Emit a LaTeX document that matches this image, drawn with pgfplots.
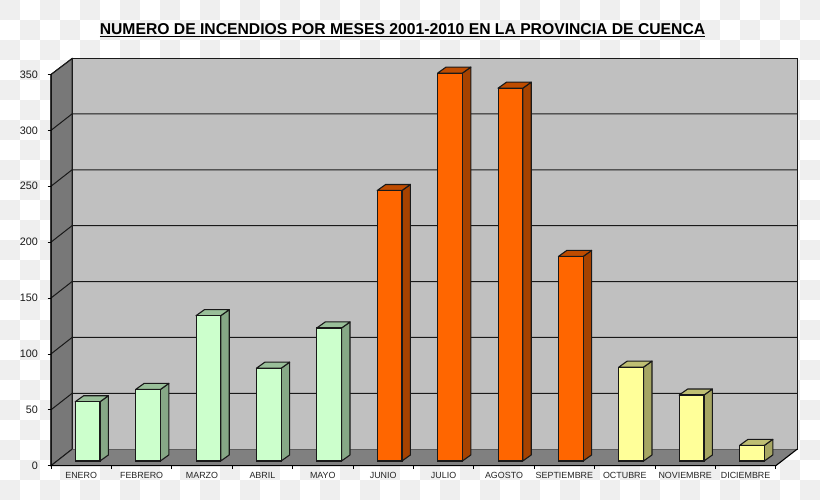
\documentclass[border=0pt]{standalone}
\usepackage{fontspec}
\setmainfont{Liberation Sans}
\usepackage{pgfplots}
\pgfplotsset{compat=1.18}
\definecolor{wallback}{HTML}{C0C0C0}
\definecolor{wallside}{HTML}{787878}
\definecolor{wallfloor}{HTML}{808080}
\definecolor{gf}{HTML}{CCFFCC}\definecolor{gs}{HTML}{86A886}\definecolor{gt}{HTML}{99BF99}
\definecolor{of}{HTML}{FF6600}\definecolor{os}{HTML}{A64200}\definecolor{ot}{HTML}{BF4C00}
\definecolor{yf}{HTML}{FFFF99}\definecolor{ys}{HTML}{A6A663}\definecolor{yt}{HTML}{BFBF73}
\definecolor{chk}{HTML}{EFEFEF}
% depth faces of one bar: #1 position, #2 value, #3 side colour, #4 top colour
\newcommand{\depth}[4]{%
  \pgfmathsetmacro\xa{#1-0.205}\pgfmathsetmacro\xb{#1+0.205}\pgfmathsetmacro\xc{#1+0.345}%
  \pgfmathsetmacro\xd{#1-0.065}\pgfmathsetmacro\yt{#2+5.4}\pgfmathsetmacro\yb{5.4}%
  \addplot[fill=#3,draw=black!90,line width=1.1pt,line join=round,xshift=6.4pt,yshift=4.7pt,forget plot]
    coordinates {(\xb,0)(\xc,\yb)(\xc,\yt)(\xb,#2)} --cycle;
  \addplot[fill=#4,draw=black!90,line width=1.1pt,line join=round,xshift=6.4pt,yshift=4.7pt,forget plot]
    coordinates {(\xa,#2)(\xd,\yt)(\xc,\yt)(\xb,#2)} --cycle;
}
\begin{document}
\begin{tikzpicture}[x=1pt,y=1pt]
\path[use as bounding box] (0,0) rectangle (820,500);
\fill[white] (0,0) rectangle (820,500);
\foreach \i in {0,...,40}{\foreach \j in {0,...,24}{%
  \pgfmathparse{int(mod(\i+\j,2))}%
  \ifnum\pgfmathresult=0 \fill[chk] (20*\i,500-20*\j) rectangle ++(20,-20);\fi}}
\begin{axis}[
  at={(51pt,34.3pt)},anchor=south west,
  scale only axis,width=746pt,height=407.1pt,
  xmin=-0.5,xmax=11.851,ymin=0,ymax=364.2,
  clip=false,
  axis line style={draw=none},
  xtick={0,...,11},
  xticklabels={ENERO,FEBRERO,MARZO,ABRIL,MAYO,JUNIO,JULIO,AGOSTO,SEPTIEMBRE,OCTUBRE,NOVIEMBRE,DICIEMBRE},
  minor xtick={-0.5,0.5,...,11.5},
  xtick pos=lower,ytick pos=left,
  tick align=outside,
  major x tick style={draw=none},
  minor tick length=3.5pt,
  minor x tick style={black,line width=0.8pt},
  major tick length=3.5pt,
  y tick style={black,line width=0.8pt},
  ytick={0,50,...,350},
  xticklabel style={font=\fontsize{8.9}{10}\selectfont,yshift=0pt,text=black!85},
  yticklabel style={font=\fontsize{10.8}{12}\selectfont,xshift=-6pt,text=black!90},
  /pgf/number format/assume math mode=true,
  title={\underline{NUMERO DE INCENDIOS POR MESES 2001-2010 EN LA PROVINCIA DE CUENCA}},
  title style={font=\bfseries\fontsize{15.7}{17}\selectfont,at={(0.4712,1.056)},anchor=center,inner sep=0pt},
]
% walls and floor
\addplot[fill=wallback,draw=black!90,line width=1pt,forget plot]
  coordinates {(-0.152,14.7)(11.851,14.7)(11.851,364.2)(-0.152,364.2)} --cycle;
\addplot[fill=wallside,draw=black!90,line width=1pt,forget plot]
  coordinates {(-0.5,0)(-0.152,14.7)(-0.152,364.2)(-0.5,350)} --cycle;
\addplot[fill=wallfloor,draw=none,forget plot]
  coordinates {(-0.5,0)(11.5,0)(11.851,14.7)(-0.152,14.7)} --cycle;
% grid lines on side and back walls
\pgfplotsinvokeforeach{50,100,150,200,250,300}{
  \pgfmathsetmacro\gy{#1+14.7}
  \addplot[black!90,line width=1pt,forget plot]
    coordinates {(-0.5,#1)(-0.152,\gy)(11.851,\gy)};
}
\addplot[black!90,line width=1pt,forget plot] coordinates {(-0.5,350)(-0.152,364.2)};
\addplot[black!90,line width=1pt,forget plot] coordinates {(-0.5,0)(-0.152,14.7)};
\addplot[black,line width=1.1pt,forget plot] coordinates {(-0.5,350)(-0.5,0)(11.5,0)(11.851,14.7)};
% bars: depth faces
\depth{0}{53}{gs}{gt}\depth{1}{64}{gs}{gt}\depth{2}{130}{gs}{gt}\depth{3}{83}{gs}{gt}\depth{4}{119}{gs}{gt}
\depth{5}{242}{os}{ot}\depth{6}{347}{os}{ot}\depth{7}{333.5}{os}{ot}\depth{8}{183}{os}{ot}
\depth{9}{84}{ys}{yt}\depth{10}{59}{ys}{yt}\depth{11}{14}{ys}{yt}
% bars: front faces
\addplot[ybar,bar width=24.7pt,bar shift=0pt,fill=gf,draw=black!90,line width=1.1pt,xshift=6.4pt,yshift=4.7pt]
  coordinates {(0,53)(1,64)(2,130)(3,83)(4,119)};
\addplot[ybar,bar width=24.7pt,bar shift=0pt,fill=of,draw=black!90,line width=1.1pt,xshift=6.4pt,yshift=4.7pt]
  coordinates {(5,242)(6,347)(7,333.5)(8,183)};
\addplot[ybar,bar width=24.7pt,bar shift=0pt,fill=yf,draw=black!90,line width=1.1pt,xshift=6.4pt,yshift=4.7pt]
  coordinates {(9,84)(10,59)(11,14)};
\end{axis}
\end{tikzpicture}
\end{document}
